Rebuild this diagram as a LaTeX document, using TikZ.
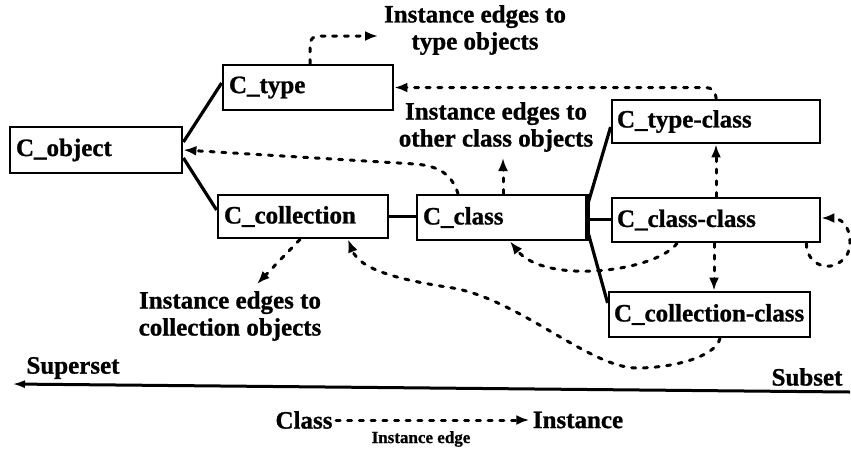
\documentclass[tikz,border=0pt]{standalone}
\usepackage{fontspec}
\setmainfont{Liberation Serif}[BoldFeatures={FakeBold=1}]
\usetikzlibrary{arrows.meta,calc}
\begin{document}
\begin{tikzpicture}[x=1pt,y=-1pt,
  every node/.style={font=\fontsize{25}{27}\selectfont\bfseries},
  box/.style={draw,line width=2.8pt,inner xsep=6pt,inner ysep=0pt,align=left},
  lab/.style={align=center,inner sep=1pt},
  solidl/.style={line width=3.2pt},
  inst/.style={line width=3pt,line cap=round,dash pattern=on 4pt off 7.7pt,-{Latex[length=13pt,width=10pt]}},
]
\useasboundingbox (0,0) rectangle (851,451);

% boxes
\node[box,minimum height=46,text width=160] (obj) at (96,150) {\mbox{C\_object}};
\node[box,minimum height=45,text width=158] (type) at (308,87.5) {\mbox{C\_type}};
\node[box,minimum height=43,text width=158] (coll) at (303,216.5) {\mbox{C\_collection}};
\node[box,minimum height=45,text width=157] (cls) at (501.5,217.5) {\mbox{C\_class}};
\node[box,minimum height=43,text width=198,inner xsep=5pt] (tcls) at (716,121.5) {\mbox{C\_type-class}};
\node[box,minimum height=44,text width=198,inner xsep=5pt] (ccls) at (716,220) {\mbox{C\_class-class}};
\node[box,minimum height=45,text width=191,inner xsep=5pt] (colcls) at (709.5,314.5) {\mbox{C\_collection-class}};

% labels
\node[lab] (t1) at (475,30) {Instance edges to\\type objects};
\node[lab] (t2) at (496,127) {Instance edges to\\other class objects};
\node[lab] (t3) at (230,316) {Instance edges to\\collection objects};
\node (sup) at (73,368) {Superset};
\node (sub) at (807,377) {Subset};
\node (cl) at (304,420) {Class};
\node (in) at (578,420) {Instance};
\node[font=\fontsize{17}{19}\selectfont\bfseries] (ie) at (421,439) {Instance edge};

% helper coordinates
\coordinate (a1) at (378,36);
\coordinate (a3) at (503,158);
\coordinate (c4) at (415,164);
\coordinate (a9) at (257,284);
\coordinate (m7) at (847,255);
\coordinate (m8a) at (637,368);
\coordinate (m8b) at (453,288);
\coordinate (axR) at (850,392);
\coordinate (axL) at (12,384);

% solid connectors (subset edges)
\draw[solidl] ([yshift=8]obj.east) -- ([yshift=4.5]type.west);
\draw[solidl] ([yshift=-8]obj.east) -- ([yshift=6.5]coll.west);
\draw[solidl] (coll.east) -- (coll.east -| cls.west);
\draw[line width=4.5pt] (cls.north east) -- (cls.south east);
\draw[solidl] ([yshift=12]cls.east) -- ([yshift=-5.5]tcls.west);
\draw[solidl] ([yshift=-2]cls.east) -- ([yshift=-2]cls.east -| ccls.west);
\draw[solidl] ([yshift=-12.5]cls.east) -- ([yshift=11.5]colcls.west);

% instance edges
\draw[inst,rounded corners=8] ([xshift=2]type.north) |- (a1);
\draw[inst,rounded corners=10] (tcls.north) |- (type.east);
\draw[inst] (cls.north -| a3) -- (a3);
\draw[inst] ([xshift=-43.5]cls.north) .. controls (452,175) and (440,166) .. (c4) -- (obj.east);
\draw[inst] ([xshift=-39]ccls.south) .. controls (655,272) and (545,285) .. ([xshift=8.5]cls.south);
\draw[inst] (ccls.north) -- (tcls.south);
\draw[inst] ([xshift=-2]ccls.south) -- ([xshift=-2]ccls.south |- colcls.north);
\draw[inst] ([xshift=-15]ccls.south east) .. controls (806,265) and (832,276) .. (m7)
  .. controls (855,238) and (846,218) .. ([yshift=2]ccls.east);
\draw[inst] ([xshift=10.5]colcls.south) .. controls (715,358) and (670,368) .. (m8a)
  .. controls (590,368) and (520,300) .. (m8b)
  .. controls (400,280) and (360,270) .. ([xshift=45]coll.south);
\draw[inst] ([xshift=-3]coll.south) -- (a9);

% axis
\draw[line width=3pt,-{Latex[length=13pt,width=8pt]}] (axR) -- (axL);

% legend
\draw[inst] (cl.east) -- (in.west);
\end{tikzpicture}
\end{document}
